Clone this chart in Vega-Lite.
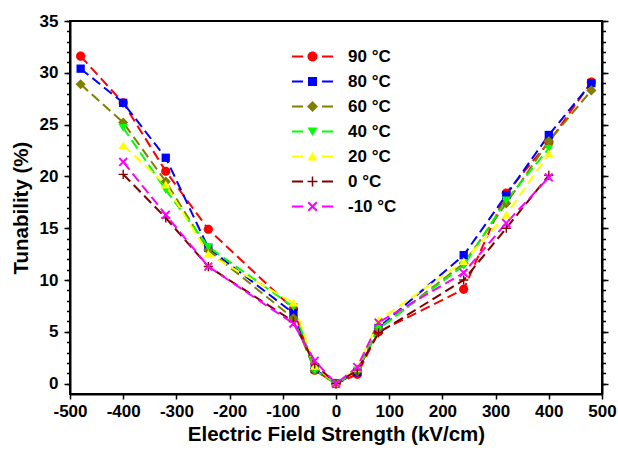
{
  "$schema": "https://vega.github.io/schema/vega-lite/v6.json",
  "autosize": {"type": "none"},
  "width": 532,
  "height": 373,
  "padding": {"left": 70, "top": 21, "right": 16, "bottom": 57},
  "background": "white",
  "config": {
    "view": {"stroke": "black", "strokeWidth": 2},
    "font": "Liberation Sans",
    "axis": {"labelFont": "Liberation Sans", "labelFontWeight": "bold", "labelFontSize": 17, "labelColor": "black", "titleFont": "Liberation Sans", "titleFontWeight": "bold", "titleFontSize": 20.5, "titleColor": "black", "domainColor": "black", "domainWidth": 2, "tickColor": "black", "tickWidth": 1.5, "grid": false},
    "legend": {"labelFont": "Liberation Sans", "labelFontWeight": "bold", "labelFontSize": 17, "labelColor": "black"}
  },
  "data": {"values": [
    {"T": "90 °C", "E": -480, "tun": 31.6}, {"T": "90 °C", "E": -400, "tun": 27.1}, {"T": "90 °C", "E": -320, "tun": 20.5}, {"T": "90 °C", "E": -240, "tun": 14.9}, {"T": "90 °C", "E": -80, "tun": 7.2}, {"T": "90 °C", "E": -40, "tun": 1.3}, {"T": "90 °C", "E": 0, "tun": 0}, {"T": "90 °C", "E": 40, "tun": 0.9}, {"T": "90 °C", "E": 80, "tun": 5.0}, {"T": "90 °C", "E": 240, "tun": 9.1}, {"T": "90 °C", "E": 320, "tun": 18.4}, {"T": "90 °C", "E": 400, "tun": 23.3}, {"T": "90 °C", "E": 480, "tun": 29.1},
    {"T": "80 °C", "E": -480, "tun": 30.4}, {"T": "80 °C", "E": -400, "tun": 27.1}, {"T": "80 °C", "E": -320, "tun": 21.8}, {"T": "80 °C", "E": -240, "tun": 13.1}, {"T": "80 °C", "E": -80, "tun": 6.8}, {"T": "80 °C", "E": -40, "tun": 1.4}, {"T": "80 °C", "E": 0, "tun": 0}, {"T": "80 °C", "E": 40, "tun": 1.1}, {"T": "80 °C", "E": 80, "tun": 5.4}, {"T": "80 °C", "E": 240, "tun": 12.4}, {"T": "80 °C", "E": 320, "tun": 18.2}, {"T": "80 °C", "E": 400, "tun": 24.0}, {"T": "80 °C", "E": 480, "tun": 29.0},
    {"T": "60 °C", "E": -480, "tun": 28.9}, {"T": "60 °C", "E": -400, "tun": 25.2}, {"T": "60 °C", "E": -320, "tun": 19.5}, {"T": "60 °C", "E": -240, "tun": 12.9}, {"T": "60 °C", "E": -80, "tun": 6.3}, {"T": "60 °C", "E": -40, "tun": 1.3}, {"T": "60 °C", "E": 0, "tun": 0}, {"T": "60 °C", "E": 40, "tun": 1.2}, {"T": "60 °C", "E": 80, "tun": 5.3}, {"T": "60 °C", "E": 240, "tun": 11.6}, {"T": "60 °C", "E": 320, "tun": 17.4}, {"T": "60 °C", "E": 400, "tun": 23.4}, {"T": "60 °C", "E": 480, "tun": 28.3},
    {"T": "40 °C", "E": -400, "tun": 24.7}, {"T": "40 °C", "E": -320, "tun": 18.7}, {"T": "40 °C", "E": -240, "tun": 13.2}, {"T": "40 °C", "E": -80, "tun": 7.4}, {"T": "40 °C", "E": -40, "tun": 1.3}, {"T": "40 °C", "E": 0, "tun": 0}, {"T": "40 °C", "E": 40, "tun": 1.3}, {"T": "40 °C", "E": 80, "tun": 5.3}, {"T": "40 °C", "E": 240, "tun": 11.4}, {"T": "40 °C", "E": 320, "tun": 17.7}, {"T": "40 °C", "E": 400, "tun": 22.7},
    {"T": "20 °C", "E": -400, "tun": 23.0}, {"T": "20 °C", "E": -320, "tun": 19.2}, {"T": "20 °C", "E": -240, "tun": 12.5}, {"T": "20 °C", "E": -80, "tun": 7.8}, {"T": "20 °C", "E": -40, "tun": 1.7}, {"T": "20 °C", "E": 0, "tun": 0}, {"T": "20 °C", "E": 40, "tun": 1.5}, {"T": "20 °C", "E": 80, "tun": 6.1}, {"T": "20 °C", "E": 240, "tun": 11.8}, {"T": "20 °C", "E": 320, "tun": 16.3}, {"T": "20 °C", "E": 400, "tun": 22.2},
    {"T": "0 °C", "E": -400, "tun": 20.2}, {"T": "0 °C", "E": -320, "tun": 16.0}, {"T": "0 °C", "E": -240, "tun": 11.3}, {"T": "0 °C", "E": -80, "tun": 6.0}, {"T": "0 °C", "E": -40, "tun": 1.9}, {"T": "0 °C", "E": 0, "tun": 0}, {"T": "0 °C", "E": 40, "tun": 1.3}, {"T": "0 °C", "E": 80, "tun": 4.9}, {"T": "0 °C", "E": 240, "tun": 10.0}, {"T": "0 °C", "E": 320, "tun": 15.0}, {"T": "0 °C", "E": 400, "tun": 20.1},
    {"T": "-10 °C", "E": -400, "tun": 21.4}, {"T": "-10 °C", "E": -320, "tun": 16.3}, {"T": "-10 °C", "E": -240, "tun": 11.3}, {"T": "-10 °C", "E": -80, "tun": 5.8}, {"T": "-10 °C", "E": -40, "tun": 2.2}, {"T": "-10 °C", "E": 0, "tun": 0}, {"T": "-10 °C", "E": 40, "tun": 1.6}, {"T": "-10 °C", "E": 80, "tun": 5.9}, {"T": "-10 °C", "E": 240, "tun": 10.7}, {"T": "-10 °C", "E": 320, "tun": 15.5}, {"T": "-10 °C", "E": 400, "tun": 19.9}
  ]},
  "resolve": {"scale": {"color": "independent", "shape": "independent"}, "axis": {"y": "independent"}},
  "layer": [
    {
      "mark": {"type": "line", "strokeDash": [10, 5], "strokeWidth": 2},
      "encoding": {
        "x": {"field": "E", "type": "quantitative", "scale": {"domain": [-500, 500], "nice": false, "zero": false}, "axis": {"title": "Electric Field Strength (kV/cm)", "values": [-500, -400, -300, -200, -100, 0, 100, 200, 300, 400, 500], "labelExpr": "toString(datum.value)", "tickSize": 5, "labelPadding": 4, "titlePadding": 5, "labelFlush": false}},
        "y": {"field": "tun", "type": "quantitative", "scale": {"domain": [-1, 35], "nice": false, "zero": false}, "axis": {"orient": "left", "title": "Tunability (%)", "values": [0, 5, 10, 15, 20, 25, 30, 35], "tickSize": 6, "labelPadding": 6, "titlePadding": 8}},
        "color": {"field": "T", "type": "nominal", "sort": null, "scale": {"domain": ["90 °C", "80 °C", "60 °C", "40 °C", "20 °C", "0 °C", "-10 °C"], "range": ["#FF0000", "#0000FF", "#808000", "#00FF00", "#FFFF00", "#800000", "#FF00FF"]}, "legend": null}
      }
    },
    {
      "mark": {"type": "point", "filled": true, "opacity": 1, "size": 85},
      "encoding": {
        "x": {"field": "E", "type": "quantitative"},
        "y": {"field": "tun", "type": "quantitative", "axis": {"orient": "left", "title": null, "labels": false, "domain": false, "values": [0,1,2,3,4,5,6,7,8,9,10,11,12,13,14,15,16,17,18,19,20,21,22,23,24,25,26,27,28,29,30,31,32,33,34,35], "tickSize": 3.5}},
        "color": {"field": "T", "type": "nominal", "scale": {"domain": ["90 °C", "80 °C", "60 °C", "40 °C", "20 °C", "0 °C", "-10 °C"], "range": ["#FF0000", "#0000FF", "#808000", "#00FF00", "#FFFF00", "#800000", "#FF00FF"]}, "legend": null},
        "shape": {"field": "T", "type": "nominal", "scale": {"domain": ["90 °C", "80 °C", "60 °C", "40 °C", "20 °C", "0 °C", "-10 °C"], "range": [
          "M1,0A1,1,0,1,1,-1,0A1,1,0,1,1,1,0Z",
          "M-0.9,-0.9H0.9V0.9H-0.9Z",
          "M-1.1,0L0,-1.1L1.1,0L0,1.1Z",
          "M-1,-0.8H1L0,0.9Z",
          "M-1,0.8H1L0,-0.9Z",
          "M-1,-0.15H-0.15V-1H0.15V-0.15H1V0.15H0.15V1H-0.15V0.15H-1Z",
          "M-1,-0.7L-0.7,-1L0,-0.3L0.7,-1L1,-0.7L0.3,0L1,0.7L0.7,1L0,0.3L-0.7,1L-1,0.7L-0.3,0Z"
        ]}, "legend": null}
      }
    },
    {
      "transform": [{"filter": "datum.E > 9999"}],
      "mark": {"type": "point", "filled": true, "size": 100},
      "encoding": {
        "x": {"field": "E", "type": "quantitative"},
        "y": {"field": "tun", "type": "quantitative", "axis": {"orient": "right", "title": null, "labels": false, "values": [0, 5, 10, 15, 20, 25, 30, 35], "tickSize": 6}},
        "color": {"field": "T", "type": "nominal", "scale": {"domain": ["90 °C", "80 °C", "60 °C", "40 °C", "20 °C", "0 °C", "-10 °C"], "range": ["#FF0000", "#0000FF", "#808000", "#00FF00", "#FFFF00", "#800000", "#FF00FF"]}, "legend": {"title": null, "orient": "none", "legendX": 234, "legendY": 27, "padding": 0, "symbolSize": 100, "labelOffset": 27, "rowPadding": 7, "symbolOpacity": 1, "labelFontSize": 17}},
        "shape": {"field": "T", "type": "nominal", "scale": {"domain": ["90 °C", "80 °C", "60 °C", "40 °C", "20 °C", "0 °C", "-10 °C"], "range": [
          "M-4.1,-0.2H-1.9V0.2H-4.1ZM1.9,-0.2H4.1V0.2H1.9ZM1,0A1,1,0,1,1,-1,0A1,1,0,1,1,1,0Z",
          "M-4.1,-0.2H-1.9V0.2H-4.1ZM1.9,-0.2H4.1V0.2H1.9ZM-0.9,-0.9H0.9V0.9H-0.9Z",
          "M-4.1,-0.2H-1.9V0.2H-4.1ZM1.9,-0.2H4.1V0.2H1.9ZM-1.1,0L0,-1.1L1.1,0L0,1.1Z",
          "M-4.1,-0.2H-1.9V0.2H-4.1ZM1.9,-0.2H4.1V0.2H1.9ZM-1,-0.8H1L0,0.9Z",
          "M-4.1,-0.2H-1.9V0.2H-4.1ZM1.9,-0.2H4.1V0.2H1.9ZM-1,0.8H1L0,-0.9Z",
          "M-4.1,-0.2H-1.9V0.2H-4.1ZM1.9,-0.2H4.1V0.2H1.9ZM-1,-0.15H-0.15V-1H0.15V-0.15H1V0.15H0.15V1H-0.15V0.15H-1Z",
          "M-4.1,-0.2H-1.9V0.2H-4.1ZM1.9,-0.2H4.1V0.2H1.9ZM-1,-0.7L-0.7,-1L0,-0.3L0.7,-1L1,-0.7L0.3,0L1,0.7L0.7,1L0,0.3L-0.7,1L-1,0.7L-0.3,0Z"
        ]}, "legend": {"title": null, "orient": "none", "legendX": 234, "legendY": 27, "padding": 0, "symbolSize": 100, "labelOffset": 27, "rowPadding": 7, "symbolOpacity": 1, "labelFontSize": 17}}
      }
    },
    {
      "transform": [{"filter": "datum.E > 9999"}],
      "mark": {"type": "tick"},
      "encoding": {
        "y": {"field": "tun", "type": "quantitative", "axis": {"orient": "right", "title": null, "labels": false, "domain": false, "values": [0,1,2,3,4,5,6,7,8,9,10,11,12,13,14,15,16,17,18,19,20,21,22,23,24,25,26,27,28,29,30,31,32,33,34,35], "tickSize": 3.5}}
      }
    }
  ]
}
